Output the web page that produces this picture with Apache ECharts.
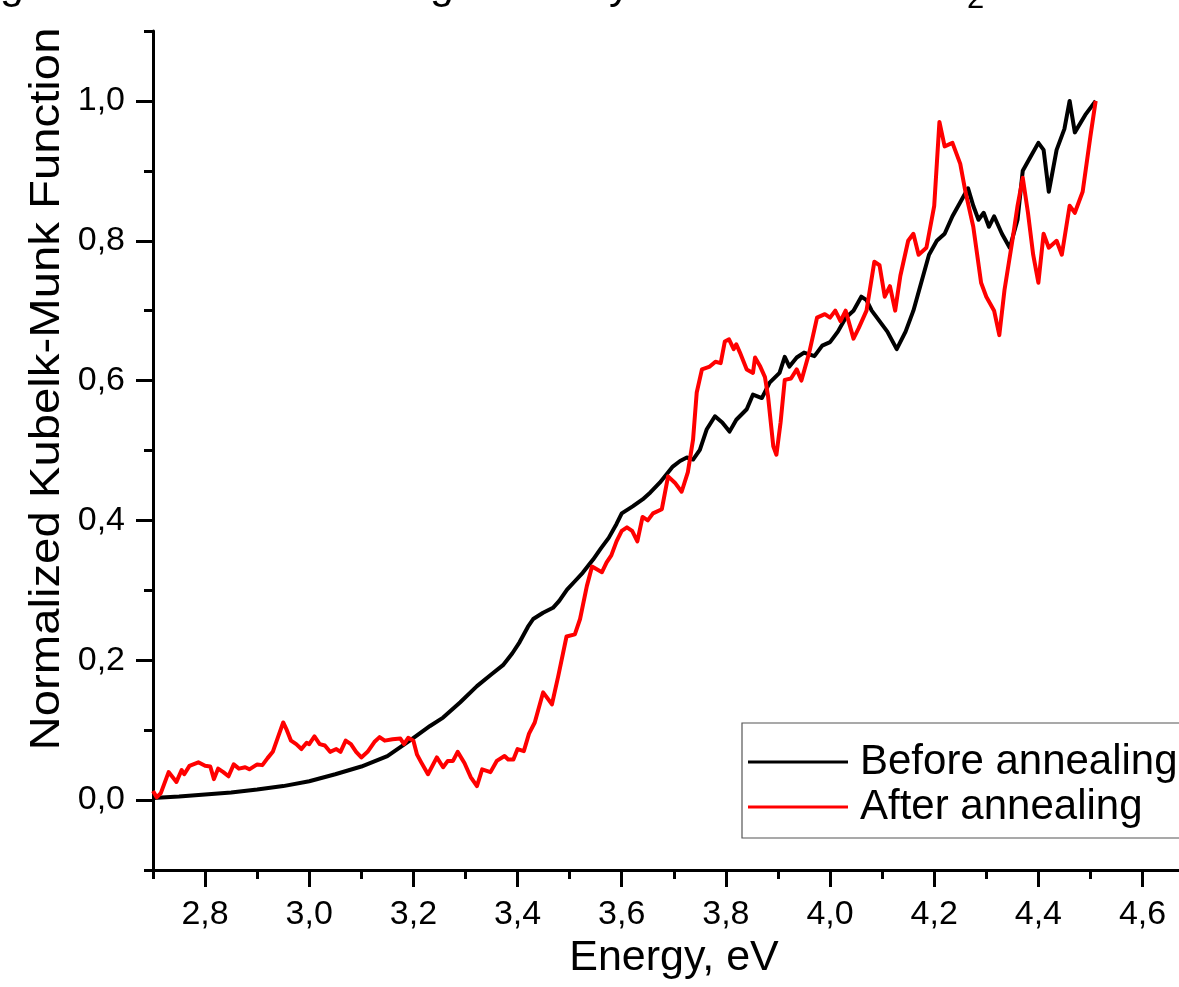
<!DOCTYPE html>
<html>
<head>
<meta charset="utf-8">
<title>Normalized Kubelka-Munk function</title>
<script src="https://cdn.jsdelivr.net/npm/echarts@6.0.0/dist/echarts.min.js"></script>
<style>
  html, body { margin: 0; padding: 0; background: #fff; }
  #main { width: 1179px; height: 987px; }
</style>
</head>
<body>
<div id="main"></div>
<script>
// values (energy in eV, normalized K-M function)
const beforeEnergy = [
  2.70, 2.75, 2.80, 2.85, 2.90, 2.95, 3.00, 3.05, 3.10, 3.15,
  3.193, 3.232, 3.257, 3.29, 3.322, 3.35, 3.372, 3.39, 3.404, 3.42,
  3.43, 3.449, 3.468, 3.48, 3.495, 3.51, 3.525, 3.545, 3.56, 3.575,
  3.59, 3.60, 3.621, 3.64, 3.655, 3.673, 3.685, 3.698, 3.712, 3.725,
  3.737, 3.75, 3.763, 3.779, 3.793, 3.807, 3.82, 3.84, 3.852, 3.869,
  3.884, 3.903, 3.913, 3.922, 3.936, 3.95, 3.97, 3.985, 4.00, 4.015,
  4.03, 4.045, 4.06, 4.07, 4.08, 4.095, 4.11, 4.128, 4.145, 4.16,
  4.175, 4.19, 4.205, 4.22, 4.235, 4.25, 4.265, 4.275, 4.285, 4.295,
  4.305, 4.315, 4.33, 4.345, 4.36, 4.37, 4.385, 4.40, 4.41, 4.42,
  4.435, 4.45, 4.46, 4.47, 4.49, 4.51
]
const beforeValue = [
  0.003, 0.005, 0.008, 0.011, 0.015, 0.020, 0.027, 0.037, 0.048, 0.063,
  0.085, 0.106, 0.118, 0.140, 0.163, 0.180, 0.193, 0.210, 0.226, 0.248,
  0.259, 0.268, 0.275, 0.285, 0.301, 0.313, 0.325, 0.344, 0.360, 0.375,
  0.395, 0.410, 0.420, 0.430, 0.440, 0.454, 0.465, 0.477, 0.485, 0.490,
  0.487, 0.501, 0.530, 0.549, 0.540, 0.527, 0.544, 0.559, 0.580, 0.575,
  0.597, 0.611, 0.634, 0.620, 0.633, 0.640, 0.635, 0.650, 0.655, 0.670,
  0.690, 0.700, 0.720, 0.715, 0.700, 0.685, 0.670, 0.645, 0.670, 0.700,
  0.740, 0.780, 0.800, 0.810, 0.835, 0.855, 0.875, 0.850, 0.830, 0.840,
  0.820, 0.835, 0.810, 0.790, 0.830, 0.900, 0.920, 0.940, 0.930, 0.870,
  0.930, 0.960, 1.000, 0.955, 0.980, 1.000
]
const afterEnergy = [
  2.70, 2.707, 2.715, 2.73, 2.745, 2.755, 2.76, 2.77, 2.787, 2.80,
  2.81, 2.817, 2.825, 2.835, 2.845, 2.855, 2.865, 2.877, 2.885, 2.90,
  2.91, 2.92, 2.93, 2.94, 2.95, 2.957, 2.965, 2.975, 2.985, 2.995,
  3.00, 3.01, 3.02, 3.03, 3.04, 3.052, 3.06, 3.07, 3.08, 3.09,
  3.10, 3.112, 3.125, 3.135, 3.145, 3.16, 3.175, 3.182, 3.19, 3.20,
  3.207, 3.215, 3.228, 3.245, 3.257, 3.266, 3.276, 3.285, 3.298, 3.31,
  3.322, 3.332, 3.348, 3.36, 3.375, 3.382, 3.392, 3.40, 3.412, 3.422,
  3.433, 3.449, 3.466, 3.478, 3.494, 3.51, 3.52, 3.533, 3.543, 3.562,
  3.571, 3.58, 3.59, 3.60, 3.61, 3.62, 3.63, 3.64, 3.65, 3.66,
  3.677, 3.689, 3.702, 3.715, 3.727, 3.737, 3.744, 3.754, 3.769, 3.78,
  3.79, 3.798, 3.806, 3.815, 3.82, 3.827, 3.84, 3.852, 3.856, 3.866,
  3.875, 3.881, 3.891, 3.897, 3.905, 3.913, 3.925, 3.936, 3.945, 3.96,
  3.975, 3.99, 4.00, 4.01, 4.02, 4.03, 4.045, 4.055, 4.07, 4.085,
  4.095, 4.105, 4.115, 4.125, 4.135, 4.15, 4.16, 4.17, 4.185, 4.20,
  4.21, 4.22, 4.235, 4.25, 4.26, 4.275, 4.29, 4.30, 4.315, 4.325,
  4.335, 4.35, 4.36, 4.37, 4.38, 4.39, 4.40, 4.41, 4.42, 4.435,
  4.445, 4.46, 4.47, 4.485, 4.50, 4.51
]
const afterValue = [
  0.013, 0.004, 0.010, 0.040, 0.026, 0.043, 0.037, 0.049, 0.054, 0.049,
  0.048, 0.030, 0.045, 0.040, 0.034, 0.051, 0.045, 0.047, 0.044, 0.051,
  0.050, 0.060, 0.069, 0.090, 0.111, 0.100, 0.085, 0.080, 0.073, 0.082,
  0.080, 0.091, 0.080, 0.078, 0.069, 0.073, 0.069, 0.085, 0.080, 0.069,
  0.061, 0.069, 0.083, 0.090, 0.085, 0.087, 0.088, 0.080, 0.089, 0.085,
  0.065, 0.054, 0.037, 0.061, 0.047, 0.056, 0.056, 0.069, 0.053, 0.033,
  0.020, 0.044, 0.040, 0.056, 0.063, 0.058, 0.058, 0.073, 0.070, 0.095,
  0.111, 0.154, 0.137, 0.177, 0.234, 0.237, 0.259, 0.306, 0.334, 0.326,
  0.340, 0.350, 0.370, 0.385, 0.390, 0.385, 0.370, 0.405, 0.400, 0.410,
  0.416, 0.463, 0.454, 0.441, 0.469, 0.516, 0.583, 0.616, 0.620, 0.627,
  0.625, 0.656, 0.659, 0.645, 0.652, 0.640, 0.616, 0.611, 0.633, 0.620,
  0.605, 0.577, 0.506, 0.494, 0.540, 0.601, 0.603, 0.616, 0.600, 0.640,
  0.690, 0.695, 0.690, 0.700, 0.685, 0.700, 0.660, 0.675, 0.700, 0.770,
  0.765, 0.720, 0.735, 0.700, 0.750, 0.800, 0.810, 0.780, 0.790, 0.850,
  0.970, 0.935, 0.940, 0.910, 0.870, 0.820, 0.740, 0.720, 0.700, 0.665,
  0.730, 0.800, 0.850, 0.890, 0.840, 0.780, 0.740, 0.810, 0.790, 0.800,
  0.780, 0.850, 0.840, 0.870, 0.950, 1.000
]

const xMajorTicks = [2.8, 3.0, 3.2, 3.4, 3.6, 3.8, 4.0, 4.2, 4.4, 4.6]
const xMinorTicks = [2.7, 2.9, 3.1, 3.3, 3.5, 3.7, 3.9, 4.1, 4.3, 4.5]
const yMajorTicks = [0, 0.2, 0.4, 0.6, 0.8, 1.0]
const yMinorTicks = [-0.1, 0.1, 0.3, 0.5, 0.7, 0.9, 1.1]

const FONT = '"Liberation Sans", Arial, sans-serif'
const comma = v => v.toFixed(1).replace('.', ',')
const pairs = (xs, ys) => xs.map((x, i) => [x, ys[i]])

const tickStyle = { color: '#000', width: 3 }

const myChart = echarts.init(document.getElementById('main'))

const option = {
  animation: false,
  backgroundColor: '#fff',
  grid: { left: 153, right: 0, top: 31, bottom: 117 },
  xAxis: [
    {
      type: 'value', min: 2.7, max: 4.67, position: 'bottom',
      axisLine: { onZero: false, lineStyle: tickStyle },
      axisTick: { customValues: xMajorTicks, length: 17, lineStyle: tickStyle },
      axisLabel: { customValues: xMajorTicks, formatter: comma, fontSize: 34, color: '#000', fontFamily: FONT, margin: 28 },
      splitLine: { show: false }
    },
    {
      // minor ticks only
      type: 'value', min: 2.7, max: 4.67, position: 'bottom',
      axisLine: { show: false, onZero: false },
      axisTick: { customValues: xMinorTicks, length: 9, lineStyle: tickStyle },
      axisLabel: { show: false },
      splitLine: { show: false }
    }
  ],
  yAxis: [
    {
      type: 'value', min: -0.1, max: 1.1, position: 'left',
      axisLine: { show: true, onZero: false, lineStyle: tickStyle },
      axisTick: { show: true, customValues: yMajorTicks, length: 17, lineStyle: tickStyle },
      axisLabel: { customValues: yMajorTicks, formatter: comma, fontSize: 34, color: '#000', fontFamily: FONT, margin: 28 },
      splitLine: { show: false }
    },
    {
      type: 'value', min: -0.1, max: 1.1, position: 'left',
      axisLine: { show: false, onZero: false },
      axisTick: { show: true, customValues: yMinorTicks, length: 9, lineStyle: tickStyle },
      axisLabel: { show: false },
      splitLine: { show: false }
    }
  ],
  legend: {
    orient: 'vertical',
    left: 742,
    top: 723,
    data: ['Before annealing', 'After annealing'],
    icon: 'rect',
    itemWidth: 100,
    itemHeight: 3,
    itemGap: 3,
    padding: [18, 30, 10, 6],
    borderColor: '#555',
    borderWidth: 1.2,
    textStyle: { fontSize: 42, color: '#000', fontFamily: FONT, padding: [0, 0, 0, 7] }
  },
  series: [
    {
      name: 'Before annealing',
      type: 'line',
      data: pairs(beforeEnergy, beforeValue),
      symbol: 'none',
      color: '#000',
      lineStyle: { color: '#000', width: 4, join: 'round' }
    },
    {
      name: 'After annealing',
      type: 'line',
      data: pairs(afterEnergy, afterValue),
      symbol: 'none',
      color: '#ff0000',
      lineStyle: { color: '#ff0000', width: 4, join: 'round' }
    }
  ],
  graphic: [
    {
      type: 'text', x: 47, y: 389, rotation: Math.PI / 2, scaleX: 1.1,
      style: { text: 'Normalized Kubelk-Munk Function', font: '43px ' + FONT, fill: '#000', align: 'center', verticalAlign: 'middle' }
    },
    {
      type: 'text', x: 674, y: 958,
      style: { text: 'Energy, eV', font: '43px ' + FONT, fill: '#000', align: 'center', verticalAlign: 'middle' }
    },
    // bottoms of the caption letters cut off above the chart
    { type: 'text', x: 0, y: -14, style: { text: 'g', font: '43px ' + FONT, fill: '#000', verticalAlign: 'middle' } },
    { type: 'text', x: 430, y: -14, style: { text: 'g', font: '43px ' + FONT, fill: '#000', verticalAlign: 'middle' } },
    { type: 'text', x: 609, y: -14, style: { text: 'y', font: '43px ' + FONT, fill: '#000', verticalAlign: 'middle' } },
    { type: 'text', x: 967, y: -1, style: { text: '2', font: '31px ' + FONT, fill: '#000', verticalAlign: 'middle' } }
  ]
}

myChart.setOption(option)
</script>
</body>
</html>
